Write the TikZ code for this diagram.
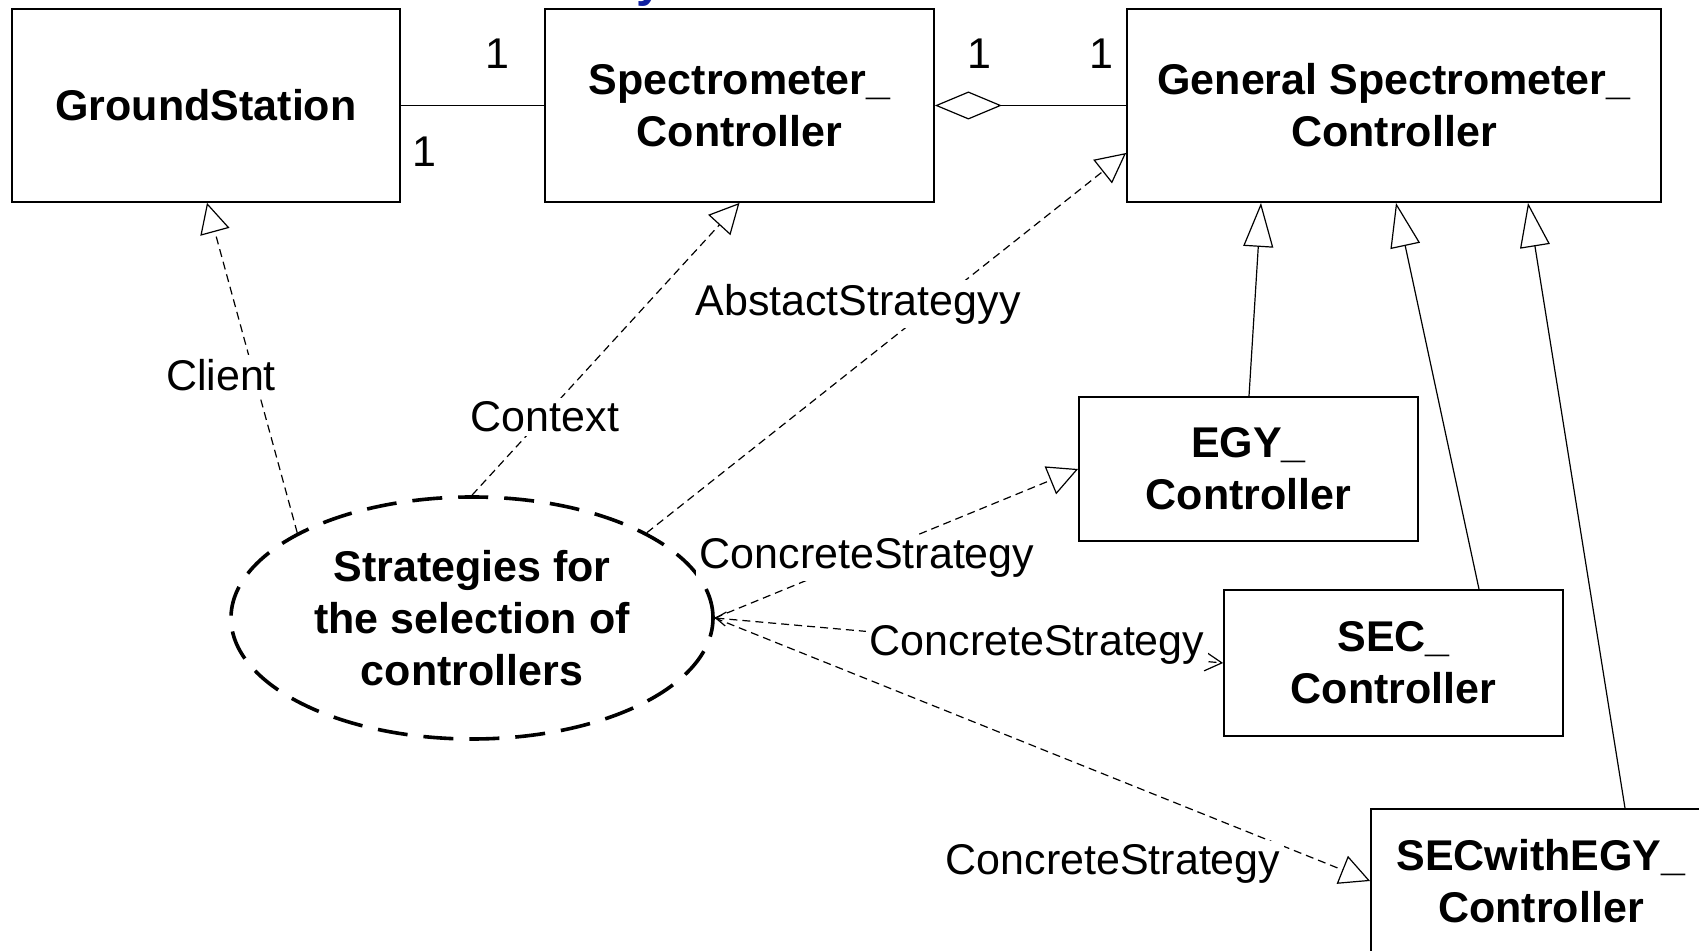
\documentclass[tikz,border=0pt]{standalone}
\usepackage{fontspec}
\setmainfont{Liberation Sans}
\usetikzlibrary{arrows.meta,shapes.geometric}
\definecolor{titleblue}{RGB}{16,32,160}
\begin{document}
\begin{tikzpicture}[x=0.5pt,y=-0.5pt,
  bigfont/.style={font=\fontsize{21.5}{26}\selectfont},
  cls/.style={draw, line width=0.9pt, align=center, inner sep=0pt,
    font=\bfseries\fontsize{21.5}{26}\selectfont},
  lbl/.style={bigfont, fill=white, inner sep=2pt},
  mult/.style={bigfont, inner sep=0pt},
  dep/.style={line width=0.6pt, dash pattern=on 4pt off 2.5pt},
  real/.style={dep, -{Triangle[open, length=15pt, width=15pt]}},
  gen/.style={line width=0.6pt, -{Triangle[open, length=22pt, width=15pt]}},
  assoc/.style={line width=0.6pt}
]
\useasboundingbox (0,0) rectangle (1699,951);
\clip (0,0) rectangle (1699,951);

% stray title fragment
\node[anchor=base, text=titleblue, inner sep=0pt,
  font=\bfseries\fontsize{24}{28}\selectfont] (ttl) at (650,-3) {y};

% classes
\node[cls, minimum width=194pt, minimum height=96.5pt] (gs) at (206,105.5) {GroundStation};
\node[cls, minimum width=194.5pt, minimum height=96.5pt] (sc) at (739.5,105.5) {Spectrometer\_\\Controller};
\node[cls, minimum width=267pt, minimum height=96.5pt] (gc) at (1394,105.5) {General Spectrometer\_\\Controller};
\node[cls, minimum width=169.5pt, minimum height=72pt] (egy) at (1248.5,469) {EGY\_\\Controller};
\node[cls, minimum width=169.5pt, minimum height=73pt] (sec) at (1393.5,663) {SEC\_\\Controller};
\node[cls, minimum width=170pt, minimum height=72pt] (sw) at (1541,881) {SECwithEGY\_\\Controller};

% collaboration
\node[ellipse, draw, line width=1.8pt, dash pattern=on 15pt off 8pt,
  minimum width=241pt, minimum height=121pt, inner sep=0pt, align=center,
  font=\bfseries\fontsize{21.5}{26}\selectfont] (st) at (472,618)
  {Strategies for\\the selection of\\controllers};

% associations
\draw[assoc] (gs.east) -- (sc.west);
\draw[assoc, {Diamond[open, length=33.5pt, width=14pt]}-] (sc.east) -- (gc.west);

% roles
\draw[real] (st.154) -- (207,0 |- gs.south);
\draw[real] (st.north) -- (sc.south);
\draw[real] (st.26) -- (gc.west |- 0,153);
\draw[real] (st.east) -- (egy.west);
\draw[dep, {Straight Barb[length=5pt, width=7pt]}-{Straight Barb[length=8.5pt, width=9.5pt]}] (st.east) -- (sec.west);
\draw[real] (st.east) -- (sw.west);

% generalizations
\draw[gen] (1249,0 |- egy.north) -- (1261,0 |- gc.south);
\draw[gen] (1479,0 |- sec.north) -- (1396,0 |- gc.south);
\draw[gen] (1625,0 |- sw.north) -- (1528,0 |- gc.south);

% labels
\node[mult] (m1) at (424,152) {1};
\node[mult] (m2) at (497,54) {1};
\node[mult] (m3) at (979,54) {1};
\node[mult] (m4) at (1101,54) {1};
\node[lbl] (lcl) at (221,375) {Client};
\node[lbl] (lctx) at (545,417) {Context};
\node[lbl] (labs) at (858,304) {AbstactStrategyy};
\node[lbl] (lc1) at (867,558) {ConcreteStrategy};
\node[lbl] (lc2) at (1037,645) {ConcreteStrategy};
\node[lbl] (lc3) at (1113,864) {ConcreteStrategy};
\end{tikzpicture}
\end{document}
